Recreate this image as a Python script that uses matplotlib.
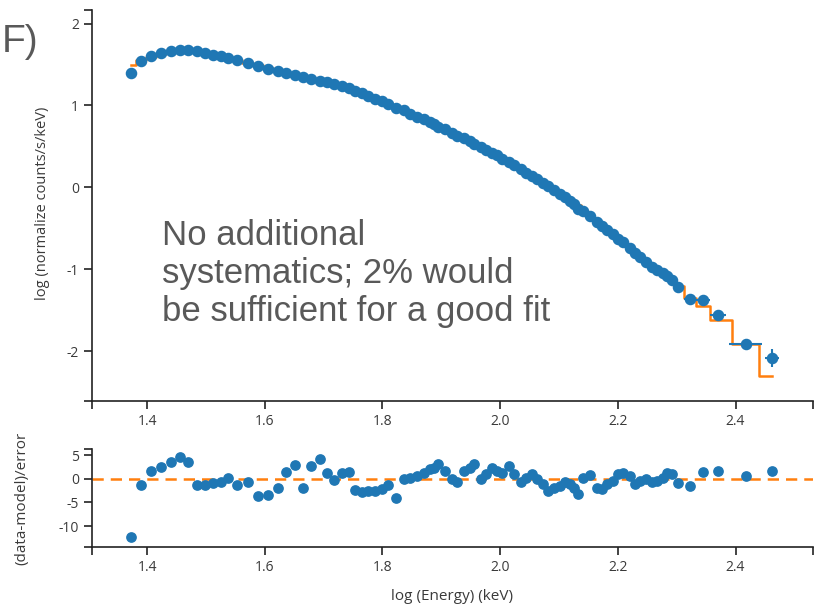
import numpy as np
import matplotlib.pyplot as plt
from matplotlib.ticker import FormatStrFormatter

plt.rcParams['axes.unicode_minus'] = False
plt.rcParams['font.family'] = ['Open Sans', 'DejaVu Sans']

# log energy of each bin (keV)
log_e = [1.372, 1.390, 1.407, 1.424, 1.440, 1.456, 1.470, 1.485, 1.499, 1.512,
         1.525, 1.538, 1.553, 1.571, 1.589, 1.605, 1.622, 1.636, 1.651, 1.665,
         1.679, 1.694, 1.706, 1.718, 1.731, 1.743, 1.754, 1.765, 1.776, 1.788,
         1.799, 1.810, 1.823, 1.836, 1.847, 1.859, 1.870, 1.880, 1.888, 1.895,
         1.906, 1.918, 1.927, 1.938, 1.948, 1.956, 1.967, 1.976, 1.986, 1.994,
         2.004, 2.015, 2.024, 2.035, 2.044, 2.054, 2.063, 2.073, 2.082, 2.092,
         2.102, 2.110, 2.118, 2.125, 2.133, 2.141, 2.153, 2.164, 2.173, 2.182,
         2.191, 2.201, 2.209, 2.220, 2.229, 2.238, 2.248, 2.258, 2.267, 2.276,
         2.283, 2.292, 2.303, 2.322, 2.344, 2.370, 2.417, 2.462]

# log normalized counts/s/keV
log_rate = [1.40, 1.54, 1.60, 1.64, 1.66, 1.68, 1.68, 1.66, 1.64, 1.62,
            1.60, 1.58, 1.55, 1.52, 1.48, 1.45, 1.42, 1.39, 1.37, 1.35,
            1.32, 1.30, 1.28, 1.26, 1.24, 1.21, 1.18, 1.15, 1.12, 1.08,
            1.05, 1.02, 0.97, 0.94, 0.90, 0.86, 0.83, 0.80, 0.77, 0.74,
            0.71, 0.66, 0.63, 0.60, 0.56, 0.53, 0.49, 0.46, 0.42, 0.39,
            0.35, 0.31, 0.27, 0.22, 0.18, 0.14, 0.10, 0.05, 0.01, -0.03,
            -0.08, -0.12, -0.17, -0.21, -0.26, -0.29, -0.35, -0.42, -0.47, -0.52,
            -0.57, -0.63, -0.67, -0.74, -0.80, -0.85, -0.91, -0.97, -1.01, -1.05,
            -1.08, -1.13, -1.22, -1.36, -1.38, -1.56, -1.92, -2.09]

# model folded through the response
log_model = [1.49, 1.55, 1.59, 1.63, 1.65, 1.67, 1.67, 1.67, 1.65, 1.62,
             1.60, 1.58, 1.56, 1.52, 1.49, 1.46, 1.43, 1.38, 1.36, 1.36,
             1.31, 1.29, 1.27, 1.26, 1.23, 1.20, 1.19, 1.16, 1.13, 1.09,
             1.06, 1.03, 0.99, 0.94, 0.90, 0.86, 0.82, 0.79, 0.76, 0.73,
             0.70, 0.66, 0.63, 0.59, 0.55, 0.52, 0.49, 0.46, 0.41, 0.38,
             0.34, 0.30, 0.27, 0.23, 0.18, 0.13, 0.10, 0.06, 0.03, -0.01,
             -0.06, -0.11, -0.15, -0.18, -0.22, -0.29, -0.36, -0.39, -0.44, -0.50,
             -0.56, -0.64, -0.69, -0.75, -0.78, -0.84, -0.91, -0.96, -1.00, -1.05,
             -1.11, -1.16, -1.20, -1.35, -1.45, -1.62, -1.92, -2.31]

# (data-model)/error
resid = [-12.3, -1.3, 1.7, 2.4, 3.6, 4.6, 3.5, -1.3, -1.3, -0.9,
         -0.6, 0.2, -1.3, -0.6, -3.6, -3.4, -2.0, 1.4, 2.9, -2.0,
         2.6, 4.2, 1.2, -0.3, 1.2, 1.4, -2.3, -2.8, -2.6, -2.5,
         -2.1, -1.4, -4.0, -0.1, 0.2, 0.5, 1.3, 2.0, 2.3, 3.2,
         1.6, -0.1, -0.7, 1.6, 2.3, 3.0, -0.1, 0.9, 2.3, 1.6,
         1.3, 2.7, 0.9, -0.8, 0.2, 0.9, 0.0, -1.2, -2.6, -1.9,
         -1.5, -0.7, -1.2, -1.9, -3.3, 0.2, 0.7, -1.9, -2.2, -1.2,
         -0.5, 0.9, 1.3, 0.6, -1.2, -0.5, -0.1, -0.8, -0.5, 0.2,
         1.1, 0.9, -1.0, -1.5, 1.5, 1.6, 0.6, 1.6]

# error bars only show at the high energy end
tail_xerr = [0.010, 0.012, 0.013, 0.028, 0.012]
tail_yerr = [0.03, 0.03, 0.04, 0.05, 0.11]

blue = '#1f77b4'
orange = '#ff7f0e'
dark = '#222222'
txt = '#3a3a3a'

fig = plt.figure(figsize=(8.15, 6.07), dpi=100)
ax1 = fig.add_axes([0.1129, 0.3394, 0.8847, 0.6441])
ax2 = fig.add_axes([0.1129, 0.0988, 0.8847, 0.1615])

xlo, xhi = 1.3065, 2.5317
for ax in (ax1, ax2):
    ax.spines['top'].set_visible(False)
    ax.spines['right'].set_visible(False)
    for s in ('left', 'bottom'):
        ax.spines[s].set_color(dark)
        ax.spines[s].set_linewidth(1.2)
    ax.set_xlim(xlo, xhi)
    ax.set_xticks([1.4, 1.6, 1.8, 2.0, 2.2, 2.4])
    ax.set_xticks([xlo, xhi], minor=True)
    ax.xaxis.set_major_formatter(FormatStrFormatter('%.1f'))
    ax.tick_params(which='both', direction='out', length=5.5, width=1.2,
                   color=dark, labelsize=10, labelcolor=txt, pad=4)

# upper panel: spectrum
ax1.plot(log_e, log_model, drawstyle='steps-mid', color=orange, lw=1.8, zorder=2)
ax1.errorbar(log_e[-5:], log_rate[-5:], xerr=tail_xerr, yerr=tail_yerr,
             fmt='none', ecolor=blue, elinewidth=1.5, zorder=2.5)
ax1.plot(log_e, log_rate, 'o', color=blue, ms=7.3, mec=blue, zorder=3)
ax1.set_ylim(-2.61, 2.165)
ax1.set_yticks([-2, -1, 0, 1, 2])
ax1.set_yticks([-2.61, 2.165], minor=True)

# lower panel: residuals
ax2.axhline(0, color=orange, ls=(0, (4.5, 2.8)), lw=1.8, zorder=1)
ax2.plot(log_e, resid, 'o', color=blue, ms=6.7, mec=blue, zorder=3)
ax2.set_ylim(-14.44, 6.27)
ax2.set_yticks([-10, -5, 0, 5])
ax2.set_yticks([-14.44, 6.27], minor=True)

fig.text(43 / 815, 1 - 203 / 607, 'log (normalize counts/s/keV)', rotation=90,
         ha='center', va='center', fontsize=10.5, color=txt)
fig.text(22 / 815, 1 - 498 / 607, '(data-model)/error', rotation=90,
         ha='center', va='center', fontsize=11, color=txt)
fig.text(452 / 815, 1 - 597 / 607, 'log (Energy) (keV)',
         ha='center', va='center', fontsize=11, color=txt)

fig.text(0.002, 1 - 52 / 607, 'F)', fontsize=28, color='#595959',
         family='Liberation Sans', va='baseline')
fig.text(162 / 815, 1 - 219 / 607,
         'No additional\nsystematics; 2% would\nbe sufficient for a good fit',
         fontsize=25, color='#595959', family='Liberation Sans', va='top',
         linespacing=1.2)

fig.savefig('out.png', dpi=100)
